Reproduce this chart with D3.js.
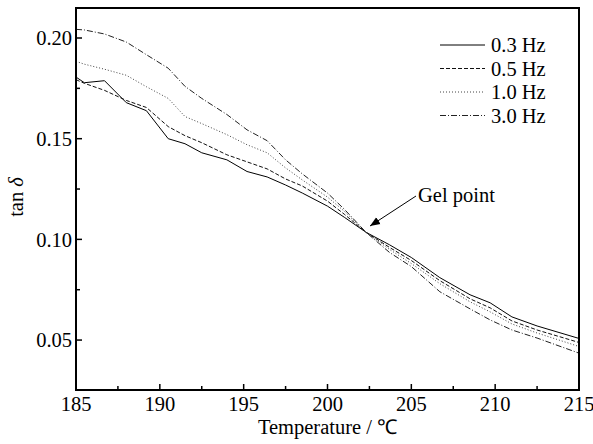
<!DOCTYPE html>
<html>
<head>
<meta charset="utf-8">
<script src="https://cdn.jsdelivr.net/npm/d3@7"></script>
<style>
  body { margin: 0; background: #fff; }
  text { font-family: "Liberation Serif", "Times New Roman", serif; fill: #000; }
</style>
</head>
<body>
<div id="chart"></div>
<script>
// Data
const temps = [185, 185.5, 186.7, 188, 189.2, 190.5, 191.5, 192.5, 194, 195.2, 196.4, 197.5,
  198.5, 200, 201, 202.3, 203.7, 205, 206.7, 208.5, 209.7, 211, 212.5, 215];
const hz03 = [0.1806, 0.1778, 0.1788, 0.1679, 0.1639, 0.1500, 0.1475, 0.1430, 0.1395, 0.1337, 0.1310, 0.1270,
  0.1230, 0.1165, 0.1110, 0.1035, 0.0973, 0.0910, 0.0810, 0.0725, 0.0685, 0.0615, 0.0570, 0.0508];
const hz05 = [0.1793, 0.1775, 0.1740, 0.1690, 0.1655, 0.1560, 0.1515, 0.1480, 0.1420, 0.1385, 0.1350, 0.1300,
  0.1265, 0.1190, 0.1125, 0.1035, 0.0960, 0.0895, 0.0795, 0.0705, 0.0660, 0.0595, 0.0550, 0.0488];
const hz10 = [0.1884, 0.1870, 0.1845, 0.1815, 0.1758, 0.1700, 0.1610, 0.1575, 0.1520, 0.1470, 0.1430, 0.1355,
  0.1295, 0.1210, 0.1140, 0.1035, 0.0950, 0.0880, 0.0780, 0.0690, 0.0640, 0.0580, 0.0535, 0.0468];
const hz30 = [0.2043, 0.2040, 0.2020, 0.1980, 0.1917, 0.1850, 0.1760, 0.1700, 0.1620, 0.1544, 0.1490, 0.1395,
  0.1325, 0.1230, 0.1150, 0.1035, 0.0935, 0.0865, 0.0740, 0.0655, 0.0600, 0.0550, 0.0510, 0.0435];
const seriesNames = ["0.3 Hz", "0.5 Hz", "1.0 Hz", "3.0 Hz"];
const xTicks = [185, 190, 195, 200, 205, 210, 215];
const yTicks = [0.05, 0.10, 0.15, 0.20];

const dashes = [null, "4,2", "1,2", "6,2,1,2"];
const strokes = ["#000", "#111", "#444", "#222"];
const series = [hz03, hz05, hz10, hz30];

const width = 593;
const height = 444;
const margin = { top: 8, right: 14, bottom: 54, left: 76 };
const fs = "20.5px";

const svg = d3.select("#chart")
  .append("svg")
  .attr("width", width)
  .attr("height", height);

const x = d3.scaleLinear()
  .domain([185, 215])
  .range([margin.left, width - margin.right]);

const y = d3.scaleLinear()
  .domain([0.0252, 0.2149])
  .range([height - margin.bottom, margin.top]);

// minor ticks
const xMinor = d3.range(187.5, 215, 5);
const yMinor = [0.075, 0.125, 0.175];

const ticks = svg.append("g").attr("stroke", "#000").attr("stroke-width", 1.5);
const y0 = y.range()[0];
const x0 = x.range()[0];
xTicks.forEach(t => ticks.append("line").attr("x1", x(t)).attr("x2", x(t)).attr("y1", y0).attr("y2", y0 - 6));
xMinor.forEach(t => ticks.append("line").attr("x1", x(t)).attr("x2", x(t)).attr("y1", y0).attr("y2", y0 - 4));
yTicks.forEach(t => ticks.append("line").attr("y1", y(t)).attr("y2", y(t)).attr("x1", x0).attr("x2", x0 + 6));
yMinor.forEach(t => ticks.append("line").attr("y1", y(t)).attr("y2", y(t)).attr("x1", x0).attr("x2", x0 + 4));

// tick labels
svg.append("g").selectAll("text")
  .data(xTicks).enter().append("text")
  .attr("x", d => x(d))
  .attr("y", y0 + 21)
  .attr("text-anchor", "middle")
  .style("font-size", fs)
  .text(d => d);

svg.append("g").selectAll("text")
  .data(yTicks).enter().append("text")
  .attr("x", x0 - 4)
  .attr("y", d => y(d))
  .attr("dy", "0.35em")
  .attr("text-anchor", "end")
  .style("font-size", fs)
  .text(d => d3.format(".2f")(d));

// lines
const line = d3.line()
  .x((d, i) => x(temps[i]))
  .y(d => y(d));

svg.append("g").selectAll("path")
  .data(series).enter().append("path")
  .attr("d", line)
  .attr("fill", "none")
  .attr("stroke", (d, i) => strokes[i])
  .attr("stroke-width", 1)
  .attr("stroke-dasharray", (d, i) => dashes[i]);

// frame
svg.append("rect")
  .attr("x", x0)
  .attr("y", margin.top)
  .attr("width", x.range()[1] - x0)
  .attr("height", y0 - margin.top)
  .attr("fill", "none")
  .attr("stroke", "#000")
  .attr("stroke-width", 2);

// legend
const legend = svg.selectAll(".legend")
  .data(seriesNames).enter().append("g")
  .attr("class", "legend")
  .attr("transform", (d, i) => `translate(440,${45 + i * 23.5})`);

legend.append("line")
  .attr("x1", 0).attr("x2", 45)
  .attr("y1", 0).attr("y2", 0)
  .attr("stroke", (d, i) => strokes[i])
  .attr("stroke-width", 1)
  .attr("stroke-dasharray", (d, i) => dashes[i]);

legend.append("text")
  .attr("x", 51)
  .attr("y", 0)
  .attr("dy", "0.35em")
  .style("font-size", fs)
  .text(d => d);

// gel point annotation
svg.append("defs").append("marker")
  .attr("id", "arrow")
  .attr("viewBox", "0 0 10 10")
  .attr("refX", 10).attr("refY", 5)
  .attr("markerWidth", 10).attr("markerHeight", 10)
  .attr("markerUnits", "userSpaceOnUse")
  .attr("orient", "auto")
  .append("path")
  .attr("d", "M0,1 L10,5 L0,9 Z")
  .attr("fill", "#000");

svg.append("line")
  .attr("x1", 416).attr("y1", 196)
  .attr("x2", 370).attr("y2", 226)
  .attr("stroke", "#000")
  .attr("stroke-width", 1)
  .attr("marker-end", "url(#arrow)");

svg.append("text")
  .attr("x", 418)
  .attr("y", 202)
  .style("font-size", fs)
  .text("Gel point");

// axis titles
svg.append("text")
  .attr("x", (x0 + x.range()[1]) / 2)
  .attr("y", 434)
  .attr("text-anchor", "middle")
  .style("font-size", fs)
  .text("Temperature / ℃");

const yl = svg.append("text")
  .attr("transform", `translate(23,197) rotate(-90)`)
  .attr("text-anchor", "middle")
  .style("font-size", fs);
yl.append("tspan").text("tan ");
yl.append("tspan").style("font-style", "italic").text("δ");
</script>
</body>
</html>
